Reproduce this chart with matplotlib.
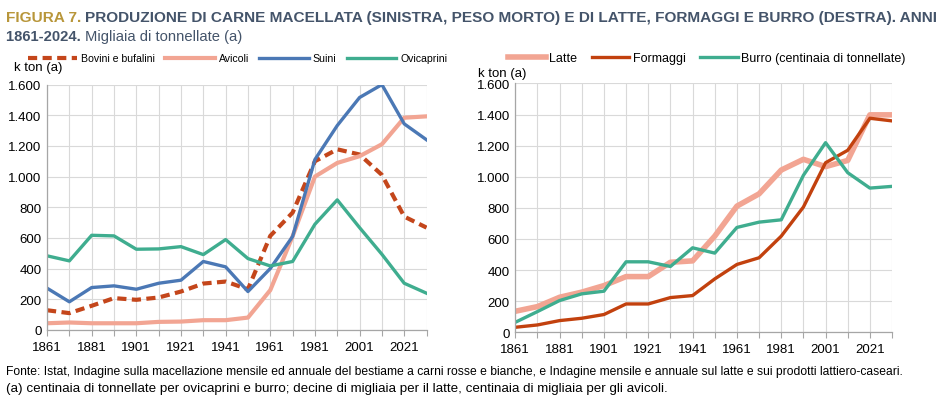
import numpy as np
import matplotlib as mpl
mpl.use('Agg')
import matplotlib.pyplot as plt

plt.rcParams['font.family'] = ['Liberation Sans', 'DejaVu Sans']

#%% dati
anni = ['1861', '1871', '1881', '1891', '1901', '1911', '1921', '1931', '1941',
        '1951', '1961', '1971', '1981', '1991', '2001', '2011', '2021', '2024']

bovini = [128, 109, 157, 207, 196, 211, 250, 302, 315, 265, 613, 765,
          1100, 1178, 1144, 1011, 739, 667]
avicoli = [43, 48, 43, 43, 43, 52, 54, 63, 63, 80, 259, 610,
           1000, 1089, 1133, 1211, 1384, 1393]
suini = [272, 183, 276, 287, 265, 304, 324, 446, 411, 250, 400, 609,
         1111, 1333, 1516, 1600, 1344, 1240]
ovicaprini = [483, 450, 617, 613, 526, 528, 543, 491, 589, 465, 417, 446,
              689, 848, 667, 493, 304, 239]

latte = [135, 165, 225, 258, 300, 358, 358, 450, 459, 618, 811, 890,
         1043, 1112, 1065, 1105, 1398, 1398]
formaggi = [32, 47, 75, 90, 114, 182, 182, 223, 236, 343, 436, 479,
            618, 805, 1090, 1170, 1376, 1359]
burro = [64, 133, 204, 247, 264, 453, 453, 423, 543, 509, 674, 708,
         723, 1009, 1219, 1026, 927, 938]

yticks = [0, 200, 400, 600, 800, 1000, 1200, 1400, 1600]
ylabels = ['0', '200', '400', '600', '800', '1.000', '1.200', '1.400', '1.600']

#%% colori
c_bov = '#C4461B'
c_avi = '#F2A593'
c_sui = '#4B78B5'
c_ovi = '#3FAD8F'
c_form = '#C2410E'
grigio = '#D9D9D9'

fig = plt.figure(figsize=(9.5, 4.02), dpi=100)

def prepara(ax):
    xx = np.arange(len(anni))
    ax.set_xlim(0, len(anni) - 1)
    ax.set_ylim(0, 1600)
    ax.set_xticks(xx)
    ax.set_xticklabels([a if i % 2 == 0 else '' for i, a in enumerate(anni)])
    ax.set_yticks(yticks)
    ax.set_yticklabels(ylabels)
    ax.grid(True, color=grigio, lw=0.8)
    ax.set_axisbelow(True)
    for s in ['top', 'right']:
        ax.spines[s].set_visible(False)
    for s in ['left', 'bottom']:
        ax.spines[s].set_color('#A6A6A6')
        ax.spines[s].set_linewidth(0.9)
    ax.tick_params(axis='x', length=4, color='#A6A6A6', labelsize=9.5, pad=4)
    ax.tick_params(axis='y', length=0, labelsize=9.5, pad=4)
    return xx

#%% sinistra: carne
ax1 = fig.add_axes([0.0495, 0.177, 0.3995, 0.610])
xx = prepara(ax1)
ax1.plot(xx, bovini, color=c_bov, lw=3, ls=(0, (2.2, 1.3)), label='Bovini e bufalini')
ax1.plot(xx, avicoli, color=c_avi, lw=3, label='Avicoli')
ax1.plot(xx, suini, color=c_sui, lw=2.4, label='Suini')
ax1.plot(xx, ovicaprini, color=c_ovi, lw=2.4, label='Ovicaprini')
ax1.legend(loc='lower left', bbox_to_anchor=(0.029, 0.84), bbox_transform=fig.transFigure,
           ncol=4, frameon=False, fontsize=7.6, handlelength=4.7, columnspacing=1.0,
           handletextpad=0.35, borderaxespad=0, borderpad=0)
fig.text(0.015, 0.83, 'k ton (a)', fontsize=9.5, va='center', ha='left')

#%% destra: latte e derivati
ax2 = fig.add_axes([0.5424, 0.171, 0.3966, 0.619])
xx = prepara(ax2)
ax2.plot(xx, latte, color=c_avi, lw=4, label='Latte')
ax2.plot(xx, formaggi, color=c_form, lw=2.4, label='Formaggi')
ax2.plot(xx, burro, color=c_ovi, lw=2.4, label='Burro (centinaia di tonnellate)')
ax2.legend(loc='lower left', bbox_to_anchor=(0.535, 0.838), bbox_transform=fig.transFigure,
           ncol=3, frameon=False, fontsize=9, handlelength=3.0, columnspacing=1.2,
           handletextpad=0.25, borderaxespad=0, borderpad=0)
fig.text(0.503, 0.815, 'k ton (a)', fontsize=9.5, va='center', ha='left')

#%% titolo in due colori (adattato alla larghezza)
fig.canvas.draw()
r = fig.canvas.get_renderer()

def pezzi(parti, x0, y0, fs, larghezza=None):
    oggetti = []
    x = x0
    for testo, col, peso in parti:
        t = fig.text(x, y0, testo, color=col, fontweight=peso, fontsize=fs, va='baseline')
        bb = t.get_window_extent(renderer=r)
        x = bb.x1 / fig.bbox.width
        oggetti.append(t)
    if larghezza is not None and x - x0 > larghezza:
        for t in oggetti:
            t.remove()
        pezzi(parti, x0, y0, fs * larghezza / (x - x0))

pezzi([('FIGURA 7. ', '#B8963A', 'bold'),
       ('PRODUZIONE DI CARNE MACELLATA (SINISTRA, PESO MORTO) E DI LATTE, FORMAGGI E BURRO (DESTRA). ANNI',
        '#44546A', 'bold')], 0.006, 0.946, 13, larghezza=0.985)
pezzi([('1861-2024. ', '#44546A', 'bold'),
       ('Migliaia di tonnellate (a)', '#44546A', 'normal')], 0.006, 0.899, 10.6)

fig.text(0.006, 0.066, 'Fonte: Istat, Indagine sulla macellazione mensile ed annuale del bestiame a carni rosse e bianche, '
         'e Indagine mensile e annuale sul latte e sui prodotti lattiero-caseari.', fontsize=8.75, va='baseline')
fig.text(0.006, 0.024, '(a) centinaia di tonnellate per ovicaprini e burro; decine di migliaia per il latte, '
         'centinaia di migliaia per gli avicoli.', fontsize=9.6, va='baseline')

fig.savefig('out.png', dpi=100)
